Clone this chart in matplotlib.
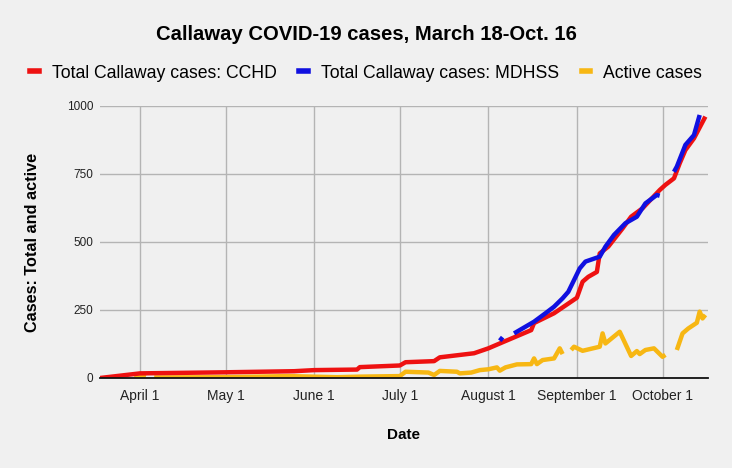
import numpy as np
import pandas as pd
import matplotlib
matplotlib.use("Agg")
import matplotlib.pyplot as plt
from matplotlib.lines import Line2D

plt.rcParams['font.family'] = ['Liberation Sans', 'DejaVu Sans']

# Total cases reported by the county health department (CCHD)
cchd_dates = ["2020-03-18", "2020-04-01", "2020-05-01", "2020-05-25", "2020-06-01",
              "2020-06-16", "2020-06-17", "2020-07-01", "2020-07-03", "2020-07-13",
              "2020-07-15", "2020-07-27", "2020-08-01", "2020-08-05", "2020-08-16",
              "2020-08-17", "2020-08-24", "2020-09-01", "2020-09-03", "2020-09-05",
              "2020-09-08", "2020-09-09", "2020-09-12", "2020-09-17", "2020-09-20",
              "2020-09-24", "2020-09-30", "2020-10-02", "2020-10-05", "2020-10-07",
              "2020-10-09", "2020-10-12", "2020-10-16"]
cchd_vals = [0, 17, 21, 25, 29,
             31, 40, 46, 58, 62,
             76, 91, 109, 127, 176,
             202, 238, 295, 354, 372,
             390, 458, 483, 550, 593,
             624, 691, 710, 734, 789,
             838, 881, 961]

# Total cases reported by the state (MDHSS), with gaps
mdhss_dates = ["2020-08-05", "2020-08-06", "2020-08-07", "2020-08-10", "2020-08-17",
               "2020-08-21", "2020-08-24", "2020-08-27", "2020-08-29", "2020-08-31",
               "2020-09-02", "2020-09-04", "2020-09-09", "2020-09-11", "2020-09-14",
               "2020-09-18", "2020-09-22", "2020-09-25", "2020-09-29", "2020-09-30",
               "2020-10-02", "2020-10-05", "2020-10-06", "2020-10-09", "2020-10-12",
               "2020-10-14"]
mdhss_vals = [137, 150, np.nan, 164, 207,
              238, 262, 293, 317, 360,
              403, 428, 446, 483, 526,
              569, 593, 642, 673, 670,
              np.nan, 758, 777, 857, 893,
              967]

# Active cases, with gaps
active_dates = ["2020-03-30", "2020-04-01", "2020-04-03", "2020-04-04", "2020-04-06",
                "2020-05-01", "2020-05-23", "2020-06-09", "2020-06-17", "2020-07-01",
                "2020-07-03", "2020-07-11", "2020-07-13", "2020-07-15", "2020-07-21",
                "2020-07-22", "2020-07-26", "2020-07-29", "2020-08-01", "2020-08-04",
                "2020-08-05", "2020-08-07", "2020-08-11", "2020-08-16", "2020-08-17",
                "2020-08-18", "2020-08-20", "2020-08-24", "2020-08-26", "2020-08-27",
                "2020-08-28", "2020-08-30", "2020-08-31", "2020-09-03", "2020-09-09",
                "2020-09-10", "2020-09-11", "2020-09-16", "2020-09-20", "2020-09-22",
                "2020-09-23", "2020-09-25", "2020-09-28", "2020-10-01", "2020-10-02",
                "2020-10-03", "2020-10-06", "2020-10-08", "2020-10-10", "2020-10-13",
                "2020-10-14", "2020-10-15", "2020-10-16"]
active_vals = [11, 10, 3, np.nan, 2,
               3, 7, 3, 5, 7,
               23, 20, 11, 26, 23,
               17, 20, 29, 32, 39,
               27, 39, 50, 51, 72,
               51, 66, 72, 109, 88,
               np.nan, 103, 115, 100, 115,
               164, 127, 170, 81, 99,
               88, 103, 109, 78, 85,
               np.nan, 103, 164, 182, 203,
               244, 219, 232]

month_ticks = ["2020-04-01", "2020-05-01", "2020-06-01", "2020-07-01",
               "2020-08-01", "2020-09-01", "2020-10-01"]
month_labels = ["April 1", "May 1", "June 1", "July 1",
                "August 1", "September 1", "October 1"]

bg = "#f0f0f0"
red = "#ee1111"
blue = "#1010e0"
yellow = "#f7b713"

fig = plt.figure(figsize=(7.32, 4.68), dpi=100, facecolor=bg)
ax = fig.add_axes([100 / 732, 90 / 468, 608 / 732, 272 / 468], facecolor=bg)

lw = 3.2
ax.plot(pd.to_datetime(active_dates), active_vals, color=yellow, lw=lw, solid_capstyle="butt", zorder=3)
ax.plot(pd.to_datetime(cchd_dates), cchd_vals, color=red, lw=lw, solid_capstyle="butt", zorder=4)
ax.plot(pd.to_datetime(mdhss_dates), mdhss_vals, color=blue, lw=lw, solid_capstyle="butt", zorder=5)

ax.set_xlim(pd.Timestamp("2020-03-18"), pd.Timestamp("2020-10-16 22:00"))
ax.set_ylim(0, 1000)
ax.set_yticks([0, 250, 500, 750, 1000])
ax.set_xticks(pd.to_datetime(month_ticks))
ax.set_xticklabels(month_labels)
ax.tick_params(axis="both", length=0, colors="#222222")
ax.tick_params(axis="x", labelsize=10, pad=8)
ax.tick_params(axis="y", labelsize=8.5, pad=5)

ax.grid(True, color="#b4b4b4", lw=1)
ax.set_axisbelow(True)
for s in ["left", "right", "top"]:
    ax.spines[s].set_visible(False)
ax.spines["bottom"].set_color("#111111")
ax.spines["bottom"].set_linewidth(1.3)
ax.spines["bottom"].set_zorder(6)

ax.set_xlabel("Date", fontsize=11, fontweight="bold", labelpad=18)
ax.set_ylabel("Cases: Total and active", fontsize=11.7, fontweight="bold", labelpad=19)

fig.text(0.5, 1 - 35 / 468, "Callaway COVID-19 cases, March 18-Oct. 16",
         ha="center", va="center", fontsize=14.6, fontweight="bold")

handles = [Line2D([], [], color=red, lw=4),
           Line2D([], [], color=blue, lw=4),
           Line2D([], [], color=yellow, lw=4)]
labels = ["Total Callaway cases: CCHD", "Total Callaway cases: MDHSS", "Active cases"]
fig.legend(handles, labels, loc="center", bbox_to_anchor=(0.5, 1 - 73 / 468),
           ncol=3, frameon=False, fontsize=12.7, handlelength=0.5,
           handletextpad=0.7, columnspacing=1.3)

fig.savefig("out.png", dpi=100, facecolor=bg)
